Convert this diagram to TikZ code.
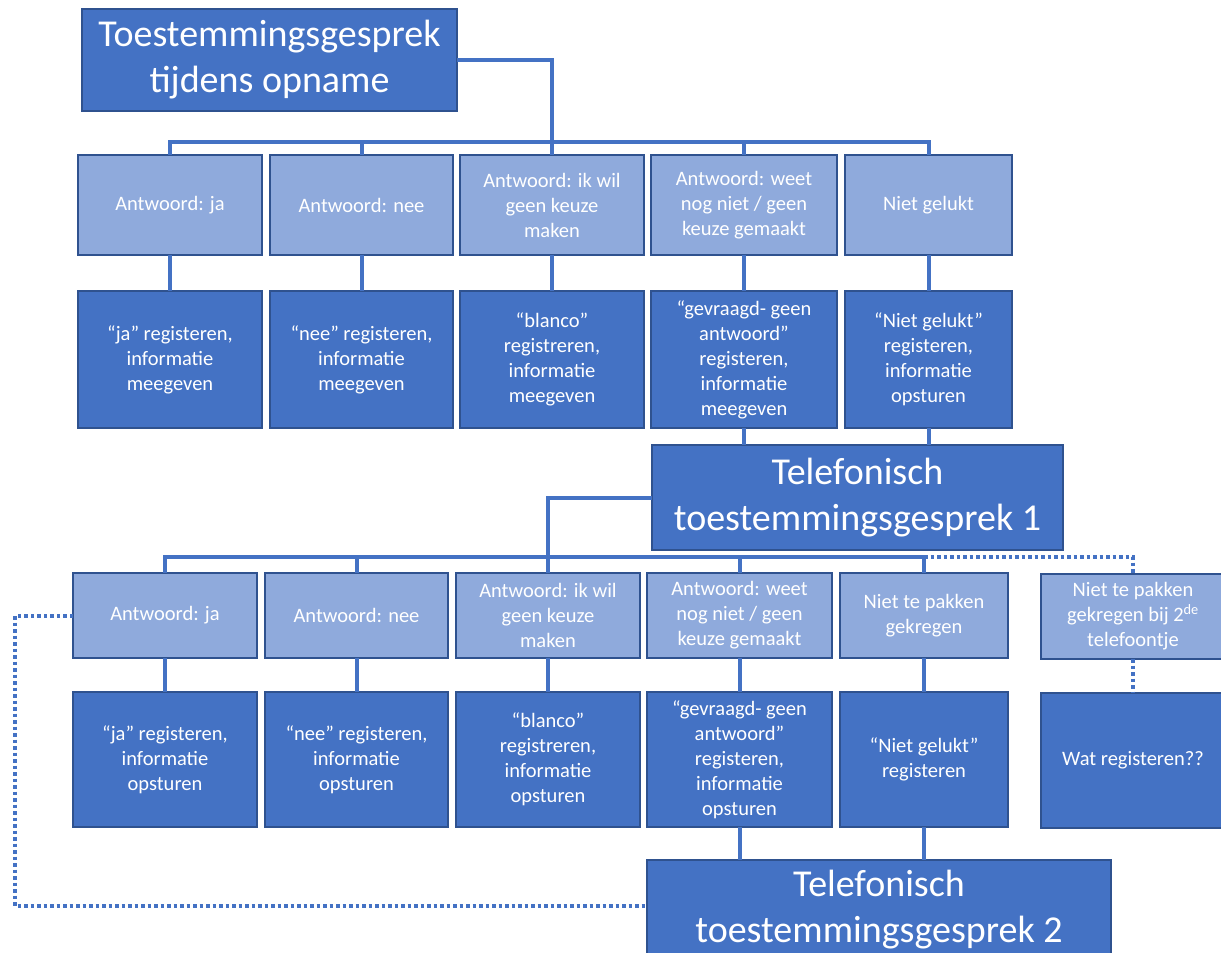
\documentclass[tikz,border=0pt]{standalone}
\usepackage{fontspec}
\setmainfont{Carlito}
\usetikzlibrary{calc}
\definecolor{darkc}{HTML}{4472C4}
\definecolor{lightc}{HTML}{8FAADC}
\definecolor{bordc}{HTML}{2F528F}
\tikzset{
  base/.style={draw=bordc, line width=1.5pt, text=white, align=center, inner sep=2pt, outer sep=0pt, anchor=north west},
  lbox/.style={base, fill=lightc, font=\fontsize{20.5}{25}\selectfont},
  dbox/.style={base, fill=darkc, font=\fontsize{20.5}{25}\selectfont},
  bigbox/.style={base, fill=darkc, font=\fontsize{38}{46}\selectfont},
  conn/.style={draw=darkc, line width=4pt},
  dconn/.style={draw=darkc, line width=4pt, dash pattern=on 3.5pt off 3pt}
}
\begin{document}
\begin{tikzpicture}[x=1pt, y=-1pt]
\fill[white] (0,0) rectangle (1221,953);
\useasboundingbox (0,0) rectangle (1221,953);

% title
\node[bigbox, minimum width=375, minimum height=102] (title) at (82,9) {Toestemmingsgesprek\\tijdens opname};

% row 1
\node[lbox, minimum width=184, minimum height=100] (a1) at (78,155) {Antwoord: ja};
\node[lbox, minimum width=183, minimum height=100] (a2) at (270,155) {Antwoord: nee};
\node[lbox, minimum width=184, minimum height=100] (a3) at (460,155) {Antwoord: ik wil\\geen keuze\\maken};
\node[lbox, minimum width=186, minimum height=100] (a4) at (651,155) {Antwoord: weet\\nog niet / geen\\keuze gemaakt};
\node[lbox, minimum width=167, minimum height=100] (a5) at (845,155) {Niet gelukt};

% row 2
\node[dbox, minimum width=184, minimum height=137] (r1) at (78,291) {“ja” registeren,\\informatie\\meegeven};
\node[dbox, minimum width=183, minimum height=137] (r2) at (270,291) {“nee” registeren,\\informatie\\meegeven};
\node[dbox, minimum width=184, minimum height=137] (r3) at (460,291) {“blanco”\\registreren,\\informatie\\meegeven};
\node[dbox, minimum width=186, minimum height=137] (r4) at (651,291) {“gevraagd- geen\\antwoord”\\registeren,\\informatie\\meegeven};
\node[dbox, minimum width=167, minimum height=137] (r5) at (845,291) {“Niet gelukt”\\registeren,\\informatie\\opsturen};

% telefonisch 1
\node[bigbox, minimum width=411, minimum height=105] (tel1) at (652,445) {Telefonisch\\toestemmingsgesprek 1};

% row 3
\node[lbox, minimum width=184, minimum height=85] (b1) at (73,573) {Antwoord: ja};
\node[lbox, minimum width=183, minimum height=85] (b2) at (265,573) {Antwoord: nee};
\node[lbox, minimum width=184, minimum height=85] (b3) at (456,573) {Antwoord: ik wil\\geen keuze\\maken};
\node[lbox, minimum width=185, minimum height=85] (b4) at (647,573) {Antwoord: weet\\nog niet / geen\\keuze gemaakt};
\node[lbox, minimum width=168, minimum height=85] (b5) at (840,573) {Niet te pakken\\gekregen};
\node[lbox, minimum width=184, minimum height=85] (b6) at (1041,574) {Niet te pakken\\gekregen bij 2\textsuperscript{de}\\telefoontje};

% row 4
\node[dbox, minimum width=184, minimum height=135] (c1) at (73,692) {“ja” registeren,\\informatie\\opsturen};
\node[dbox, minimum width=183, minimum height=135] (c2) at (265,692) {“nee” registeren,\\informatie\\opsturen};
\node[dbox, minimum width=184, minimum height=135] (c3) at (456,692) {“blanco”\\registreren,\\informatie\\opsturen};
\node[dbox, minimum width=185, minimum height=135] (c4) at (647,692) {“gevraagd- geen\\antwoord”\\registeren,\\informatie\\opsturen};
\node[dbox, minimum width=168, minimum height=135] (c5) at (840,692) {“Niet gelukt”\\registeren};
\node[dbox, minimum width=184, minimum height=135] (c6) at (1041,693) {Wat registeren??};

% telefonisch 2
\node[bigbox, minimum width=464, minimum height=100] (tel2) at (647,860) {Telefonisch\\toestemmingsgesprek 2};

% connectors level 1
\draw[conn] (title.east) -| (a3.north);
\draw[conn] (a1.north) -- ++(0,-13) -| (a5.north);
\draw[conn] (a2.north) -- ++(0,-13);
\draw[conn] (a4.north) -- ++(0,-13);
\foreach \i in {1,...,5} {\draw[conn] (a\i.south) -- (r\i.north);}
\draw[conn] (r4.south) -- (r4.south |- tel1.north);
\draw[conn] (r5.south) -- (r5.south |- tel1.north);

% connectors level 2
\coordinate (bus2) at ($(b1.north)+(0,-16)$);
\draw[conn] (tel1.west) -| (b3.north);
\draw[conn] (b1.north) -- (bus2) -| (b5.north);
\draw[conn] (b2.north) -- ++(0,-16);
\draw[conn] (b4.north) -- ++(0,-16);
\draw[dconn] (b5.north |- bus2) -| (b6.north);
\foreach \i in {1,...,5} {\draw[conn] (b\i.south) -- (c\i.north);}
\draw[dconn] (b6.south) -- (c6.north);
\draw[conn] (c4.south) -- (c4.south |- tel2.north);
\draw[conn] (c5.south) -- (c5.south |- tel2.north);

% dotted loop back
\coordinate (loopA) at (15,0);
\coordinate (t2in) at ([yshift=-46pt]tel2.north west);
\draw[dconn] (b1.west) -| (loopA |- t2in) -- (t2in);
\end{tikzpicture}
\end{document}
